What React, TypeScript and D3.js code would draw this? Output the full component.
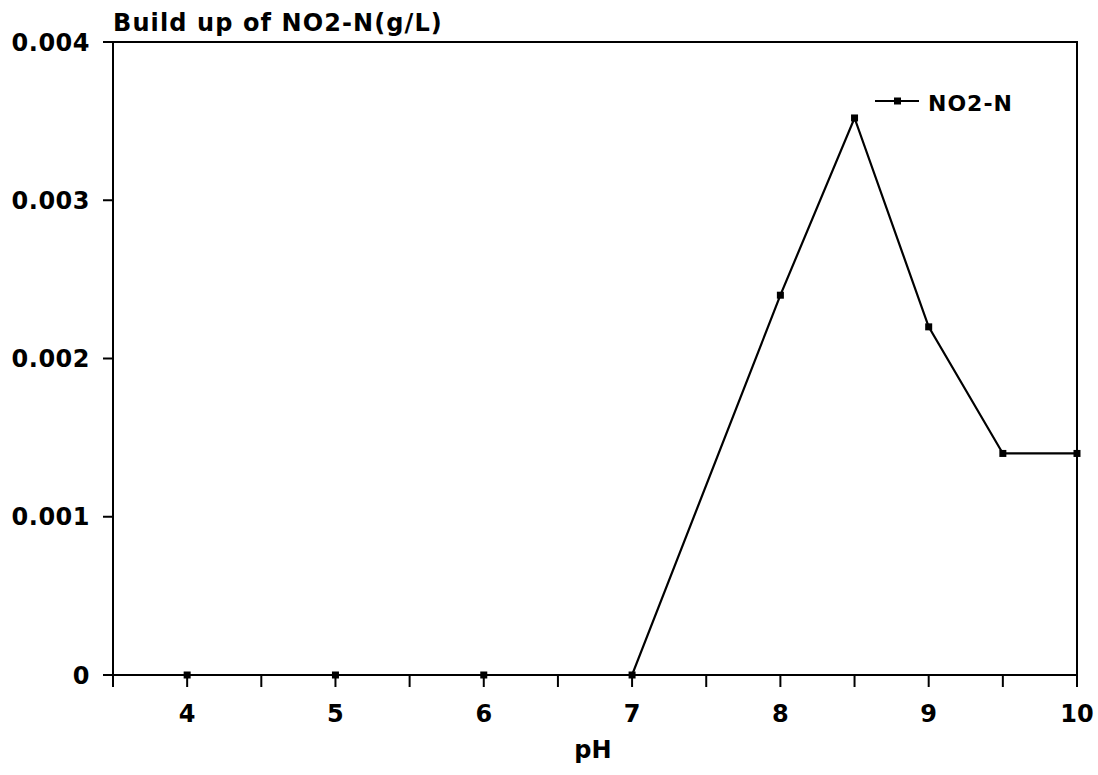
import React from "react";
import * as d3 from "d3";

const phValues = [4, 5, 6, 7, 8, 8.5, 9, 9.5, 10];
const no2nValues = [0, 0, 0, 0, 0.0024, 0.00352, 0.0022, 0.0014, 0.0014];
const xTicks = [4, 5, 6, 7, 8, 9, 10];
const xMinorTicks = [3.5, 4, 4.5, 5, 5.5, 6, 6.5, 7, 7.5, 8, 8.5, 9, 9.5, 10];
const yTicks = [0, 0.001, 0.002, 0.003, 0.004];
const yTickLabels = ["0", "0.001", "0.002", "0.003", "0.004"];

export default function App() {
  const W = 1098, H = 775;
  const left = 113, right = 1077, top = 42, bottom = 675;
  const x = d3.scaleLinear().domain([3.5, 10]).range([left, right]);
  const y = d3.scaleLinear().domain([0, 0.004]).range([bottom, top]);
  const line = d3.line<number>().x((_, i) => x(phValues[i])).y((d) => y(d));
  const font = "'DejaVu Sans', 'Liberation Sans', Arial, sans-serif";
  return (
    <svg width={W} height={H} style={{ position: "absolute", left: 0, top: 0, background: "#fff" }}>
      <rect x={0} y={0} width={W} height={H} fill="#fff" />
      <g fontFamily={font} fontWeight="bold" fill="#000">
        <rect x={left} y={top} width={right - left} height={bottom - top} fill="none" stroke="#000" strokeWidth={2} />
        {xMinorTicks.map((t) => (
          <line key={"xt" + t} x1={x(t)} x2={x(t)} y1={bottom} y2={bottom + 12} stroke="#000" strokeWidth={2} />
        ))}
        {xTicks.map((t) => (
          <text key={"xl" + t} x={x(t)} y={722} textAnchor="middle" fontSize={24}>{t}</text>
        ))}
        {yTicks.map((t, i) => (
          <g key={"y" + t}>
            <line x1={left - 10} x2={left} y1={y(t)} y2={y(t)} stroke="#000" strokeWidth={2} />
            <text x={90} y={y(t) + 8.5} textAnchor="end" fontSize={24} letterSpacing={0.5}>{yTickLabels[i]}</text>
          </g>
        ))}
        <text x={593} y={758} textAnchor="middle" fontSize={24}>pH</text>
        <text x={113} y={31} fontSize={24} letterSpacing={1.1}>Build up of NO2-N(g/L)</text>
        <path d={line(no2nValues) || ""} fill="none" stroke="#000" strokeWidth={2.2} />
        {no2nValues.map((v, i) => (
          <rect key={"m" + i} x={x(phValues[i]) - 3.5} y={y(v) - 3.5} width={7} height={7} fill="#000" />
        ))}
        <line x1={875} x2={919} y1={101} y2={101} stroke="#000" strokeWidth={2} />
        <rect x={894} y={97.5} width={7} height={7} fill="#000" />
        <text x={928} y={111} fontSize={22} letterSpacing={1}>NO2-N</text>
      </g>
    </svg>
  );
}
